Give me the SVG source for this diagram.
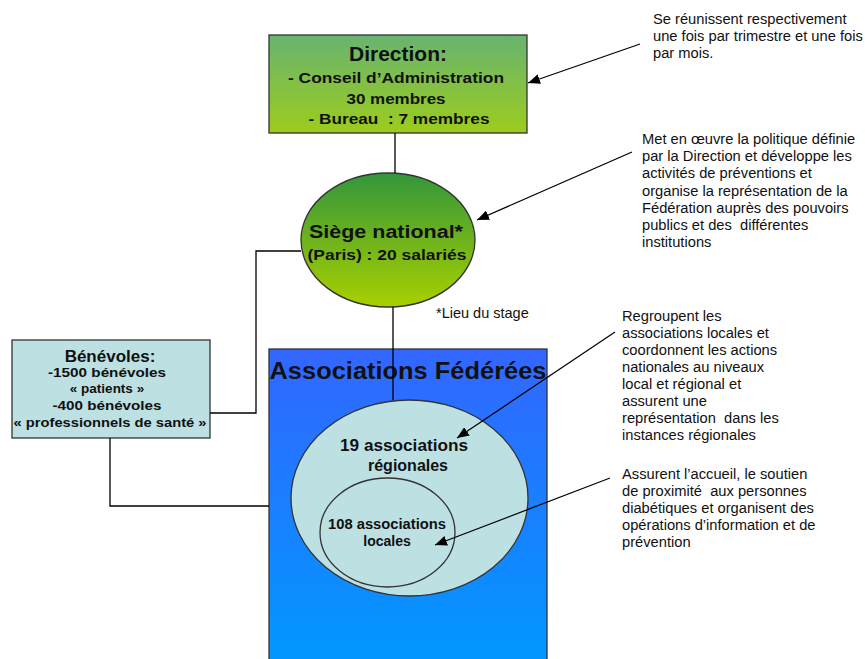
<svg xmlns="http://www.w3.org/2000/svg" width="865" height="659" viewBox="0 0 865 659">
  <defs>
    <linearGradient id="gDirection" x1="0" y1="0" x2="0" y2="1">
      <stop offset="0" stop-color="#68b470"/>
      <stop offset="1" stop-color="#9ccc1c"/>
    </linearGradient>
    <linearGradient id="gSiege" x1="0" y1="0" x2="0" y2="1">
      <stop offset="0" stop-color="#33963a"/>
      <stop offset="1" stop-color="#a8d000"/>
    </linearGradient>
    <linearGradient id="gAssoc" x1="0" y1="0" x2="0" y2="1">
      <stop offset="0" stop-color="#3366ff"/>
      <stop offset="1" stop-color="#0099ff"/>
    </linearGradient>
    <marker id="arrow" viewBox="0 0 12 10" refX="12" refY="5" markerWidth="12" markerHeight="10" markerUnits="userSpaceOnUse" orient="auto">
      <path d="M0,0 L12,5 L0,10 Z" fill="#000"/>
    </marker>
    <style>
      .box { stroke: #333; stroke-width: 1.3; }
      .lbl { font-family: "Liberation Sans", Arial, sans-serif; font-weight: bold; fill: #111; text-anchor: middle; }
      .note { font-family: "Liberation Sans", Arial, sans-serif; font-size: 14.7px; fill: #111; }
      .link { fill: none; stroke: #000; stroke-width: 1.3; }
      .ann { fill: none; stroke: #000; stroke-width: 1.2; marker-end: url(#arrow); }
    </style>
  </defs>

  <rect width="865" height="659" fill="#fff"/>

  <!-- Direction -->
  <g id="direction">
    <rect class="box" x="269" y="35" width="258" height="98" fill="url(#gDirection)"/>
    <text class="lbl" x="398" y="61" font-size="21">Direction:</text>
    <text class="lbl" x="396" y="83" font-size="15" textLength="216" lengthAdjust="spacingAndGlyphs">- Conseil d’Administration</text>
    <text class="lbl" x="396" y="104" font-size="15" textLength="99" lengthAdjust="spacingAndGlyphs">30 membres</text>
    <text class="lbl" x="399" y="124" font-size="15" textLength="181" lengthAdjust="spacingAndGlyphs" xml:space="preserve">- Bureau  : 7 membres</text>
  </g>

  <!-- Siège national -->
  <g id="siege">
    <ellipse class="box" cx="388" cy="240" rx="87" ry="67" fill="url(#gSiege)"/>
    <text class="lbl" x="386" y="238" font-size="18" textLength="154" lengthAdjust="spacingAndGlyphs">Siège national*</text>
    <text class="lbl" x="387" y="260" font-size="15" textLength="159" lengthAdjust="spacingAndGlyphs">(Paris) : 20 salariés</text>
  </g>

  <!-- Associations fédérées -->
  <g id="associations">
    <rect class="box" x="269" y="349" width="278" height="320" fill="url(#gAssoc)"/>
    <text class="lbl" x="408" y="379" font-size="24" textLength="277" lengthAdjust="spacingAndGlyphs">Associations Fédérées</text>
  </g>

  <g id="regionales">
    <ellipse class="box" cx="409.5" cy="498" rx="118.5" ry="98" fill="#bde0e3"/>
    <text class="lbl" x="404" y="451" font-size="16" textLength="128" lengthAdjust="spacingAndGlyphs">19 associations</text>
    <text class="lbl" x="408" y="471" font-size="16">régionales</text>
  </g>

  <g id="locales">
    <ellipse class="box" cx="387.5" cy="532.5" rx="67.5" ry="54.5" fill="#bde0e3"/>
    <text class="lbl" x="387" y="529" font-size="14" textLength="118" lengthAdjust="spacingAndGlyphs">108 associations</text>
    <text class="lbl" x="387" y="546" font-size="14">locales</text>
  </g>

  <!-- Bénévoles -->
  <g id="benevoles">
    <rect class="box" x="12" y="340" width="198" height="98" fill="#bde0e3"/>
    <text class="lbl" x="110" y="362" font-size="17">Bénévoles:</text>
    <text class="lbl" x="107" y="377" font-size="13.5" textLength="118" lengthAdjust="spacingAndGlyphs">-1500 bénévoles</text>
    <text class="lbl" x="107" y="393" font-size="13.5">« patients »</text>
    <text class="lbl" x="107" y="410" font-size="13.5" textLength="109" lengthAdjust="spacingAndGlyphs">-400 bénévoles</text>
    <text class="lbl" x="110" y="427" font-size="13.5" textLength="193" lengthAdjust="spacingAndGlyphs">« professionnels de santé »</text>
  </g>

  <!-- Notes -->
  <g id="note-direction" class="note">
    <text x="653" y="24">Se réunissent respectivement</text>
    <text x="653" y="41">une fois par trimestre et une fois</text>
    <text x="653" y="58">par mois.</text>
  </g>

  <g id="note-siege" class="note">
    <text x="642" y="144">Met en œuvre la politique définie</text>
    <text x="642" y="161">par la Direction et développe les</text>
    <text x="642" y="178">activités de préventions  et</text>
    <text x="642" y="196">organise la représentation de la</text>
    <text x="642" y="213">Fédération auprès des pouvoirs</text>
    <text x="642" y="230" xml:space="preserve">publics et des  différentes</text>
    <text x="642" y="247">institutions</text>
  </g>

  <g id="note-stage" class="note">
    <text x="436" y="318" font-size="14.5">*Lieu du stage</text>
  </g>

  <g id="note-regionales" class="note">
    <text x="622" y="321">Regroupent les</text>
    <text x="622" y="338">associations locales et</text>
    <text x="622" y="355">coordonnent les actions</text>
    <text x="622" y="372">nationales au niveaux</text>
    <text x="622" y="389">local et régional et</text>
    <text x="622" y="406">assurent une</text>
    <text x="622" y="423" xml:space="preserve">représentation  dans les</text>
    <text x="622" y="440">instances  régionales</text>
  </g>

  <g id="note-locales" class="note">
    <text x="622" y="479">Assurent l’accueil, le soutien</text>
    <text x="622" y="496" xml:space="preserve">de proximité  aux personnes</text>
    <text x="622" y="513">diabétiques et organisent des</text>
    <text x="622" y="530">opérations d’information et  de</text>
    <text x="622" y="547">prévention</text>
  </g>

  <!-- Connectors -->
  <g id="connectors">
    <line class="link" x1="395" y1="133" x2="395" y2="173"/>
    <line class="link" x1="393" y1="307" x2="393" y2="400"/>
    <polyline class="link" points="301,251 256,251 256,413 210,413"/>
    <polyline class="link" points="110,438 110,506 269,506"/>
    <line class="ann" x1="640" y1="44" x2="528" y2="83"/>
    <line class="ann" x1="632" y1="152" x2="477" y2="220"/>
    <line class="ann" x1="615" y1="332" x2="457" y2="438"/>
    <line class="ann" x1="610" y1="478" x2="435" y2="545"/>
  </g>
</svg>
